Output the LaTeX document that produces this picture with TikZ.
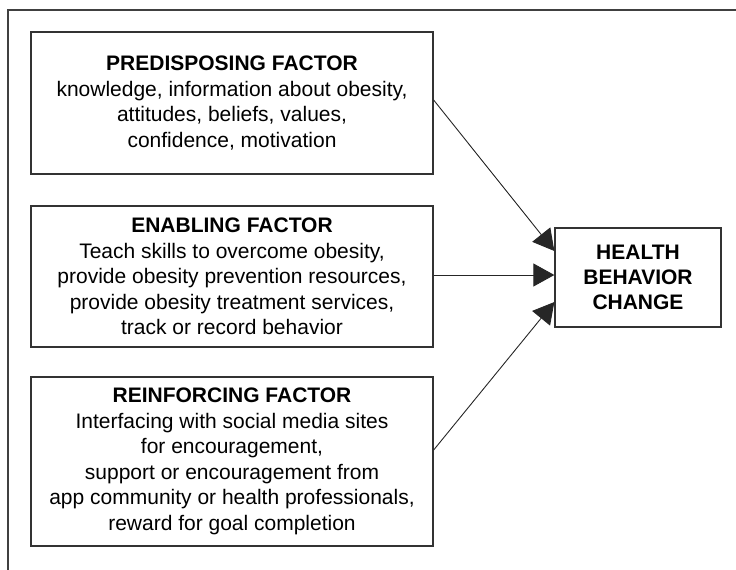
\documentclass[tikz,border=0pt]{standalone}
\usepackage{fontspec}
\setmainfont{Liberation Sans}
\usetikzlibrary{arrows.meta}

\begin{document}
\begin{tikzpicture}[x=1pt,y=-1pt,
		thin,
		factor node/.style = {rectangle,draw=black!80,line width=1.3pt,fill=white,align=center,
			minimum width=402pt,inner sep=0pt,font=\fontsize{21}{25.5}\selectfont},
		goal node/.style = {factor node,minimum width=166pt,minimum height=99pt,font=\fontsize{21}{25}\selectfont\bfseries},
		link/.style = {draw=black!85,line width=0.9pt,-{Triangle[length=21pt,width=23pt]}}]
		
		\useasboundingbox (0,0) rectangle (736,570);
		\draw[black!75,line width=1.4pt] (8,572) -- (8,10) -- (738,10);
		
		\node[factor node,minimum height=142pt] at (232,103) (pre) {\textbf{PREDISPOSING FACTOR}\\
			knowledge, information about obesity,\\ attitudes, beliefs, values,\\ confidence, motivation};
		\node[factor node,minimum height=141pt] at (232,276.5) (ena) {\textbf{ENABLING FACTOR}\\
			Teach skills to overcome obesity,\\ provide obesity prevention resources,\\
			provide obesity treatment services,\\ track or record behavior};
		\node[factor node,minimum height=169pt] at (232,461.5) (rei) {\textbf{REINFORCING FACTOR}\\
			Interfacing with social media sites\\ for encouragement,\\ support or encouragement from\\
			app community or health professionals,\\ reward for goal completion};
		\node[goal node] at (638,277.5) (hbc) {HEALTH\\ BEHAVIOR\\ CHANGE};
		
		\path
		([yshift=3pt]pre.east) edge[link] ([yshift=26.5pt]hbc.west)
		([yshift=1.5pt]ena.east) edge[link] ([yshift=2.5pt]hbc.west)
		([yshift=11.5pt]rei.east) edge[link] ([yshift=-24.5pt]hbc.west);
		\end{tikzpicture}
\end{document}
